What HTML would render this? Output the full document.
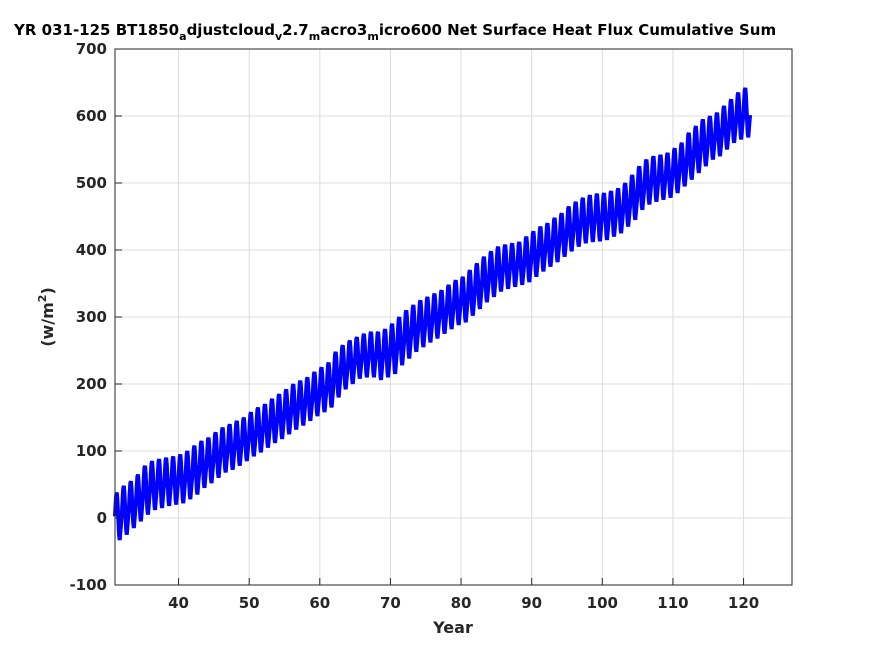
<!DOCTYPE html>
<html><head><meta charset="utf-8"><style>
html,body{margin:0;padding:0;background:#fff;width:875px;height:656px;overflow:hidden}
svg{display:block;font-family:"DejaVu Sans","Liberation Sans",sans-serif}
</style></head><body>
<svg id="chart" width="875" height="656" viewBox="0 0 875 656" xmlns="http://www.w3.org/2000/svg">
<rect x="0" y="0" width="875" height="656" fill="#fff"/>
<text x="14" y="35" font-size="15" font-weight="bold" fill="#000">YR 031-125 BT1850<tspan font-size="11" dy="5">a</tspan><tspan dy="-5">djustcloud</tspan><tspan font-size="11" dy="5">v</tspan><tspan dy="-5">2.7</tspan><tspan font-size="11" dy="5">m</tspan><tspan dy="-5">acro3</tspan><tspan font-size="11" dy="5">m</tspan><tspan dy="-5">icro600 Net Surface Heat Flux  Cumulative Sum</tspan></text>
<g id="grid"></g>
<g id="series"></g>
<rect x="115" y="49" width="677" height="536" fill="none" stroke="#262626" stroke-width="1"/>
<g id="ticks"></g>
<text x="453" y="633" font-size="16" font-weight="bold" text-anchor="middle" fill="#262626">Year</text>
<text transform="translate(53,317) rotate(-90)" font-size="16" font-weight="bold" text-anchor="middle" fill="#262626">(w/m<tspan font-size="11" dy="-7">2</tspan><tspan dy="7">)</tspan></text>
</svg>
<script>
const years = [];
for (let y = 31; y <= 120; y++) years.push(y);
const yearMax = [38,48,55,65,78,85,88,90,92,95,100,108,115,120,128,135,140,145,150,158,165,170,178,185,192,200,205,210,218,225,232,248,258,265,270,275,278,278,282,290,300,310,318,325,330,335,340,348,355,360,370,380,390,398,405,408,410,412,420,428,435,440,448,455,465,472,478,482,484,485,488,492,500,512,525,535,540,542,545,552,560,575,585,595,600,605,615,625,635,642];
const yearMin = [-33,-25,-15,-5,5,12,15,18,20,22,28,35,45,52,60,68,72,78,85,92,98,105,112,118,125,132,138,145,152,158,165,180,192,200,208,210,210,206,210,215,228,238,248,255,262,268,275,282,288,292,302,312,322,330,338,342,345,348,352,360,368,375,382,390,398,405,410,412,413,415,420,425,435,445,460,468,472,475,478,485,495,505,515,525,535,540,550,560,565,568];
const seasonShape = [0.5,0.75,0.95,1,0.85,0.6,0.35,0.1,0,0.15,0.3,0.45];
const xTicks = [40,50,60,70,80,90,100,110,120];
const yTicks = [-100,0,100,200,300,400,500,600,700];
const X0=115,X1=792,Y0=585,Y1=49, XMIN=31, XMAX=126.86, YMIN=-100, YMAX=700;
const sx = v => X0 + (v-XMIN)/(XMAX-XMIN)*(X1-X0);
const sy = v => Y0 - (v-YMIN)/(YMAX-YMIN)*(Y0-Y1);
const NS="http://www.w3.org/2000/svg";
const grid=document.getElementById('grid'), ticks=document.getElementById('ticks'), series=document.getElementById('series');
function mk(tag, attrs){const e=document.createElementNS(NS,tag);for(const k in attrs)e.setAttribute(k,attrs[k]);return e;}
xTicks.forEach(t=>{
  const x=sx(t);
  const g=mk('line',{x1:x,x2:x,y1:Y1,y2:Y0,stroke:'#dcdcdc','stroke-width':1});
  
  
  grid.appendChild(g);
  const tk=mk('line',{x1:x,x2:x,y1:Y0,y2:Y0-7,stroke:'#262626'});
  
  
  ticks.appendChild(tk);
  const lb=mk('text',{x:x,y:Y0+23,'font-size':15,'font-weight':'bold','text-anchor':'middle',fill:'#262626'});
  lb.textContent=t;
  
  
  ticks.appendChild(lb);
});
yTicks.forEach(t=>{
  const y=sy(t);
  const g=mk('line',{x1:X0,x2:X1,y1:y,y2:y,stroke:'#dcdcdc','stroke-width':1});
  
  
  grid.appendChild(g);
  const tk=mk('line',{x1:X0,x2:X0+7,y1:y,y2:y,stroke:'#262626'});
  
  
  ticks.appendChild(tk);
  const lb=mk('text',{x:X0-8,y:y+5,'font-size':15,'font-weight':'bold','text-anchor':'end',fill:'#262626'});
  lb.textContent=t;
  
  
  ticks.appendChild(lb);
});
const pts=[];
years.forEach((yr,i)=>{
  seasonShape.forEach((f,m)=>{
    const v=yearMin[i]+f*(yearMax[i]-yearMin[i]);
    pts.push(sx(yr+m/12).toFixed(2)+','+sy(v).toFixed(2));
  });
});
const line=mk('polyline',{points:pts.join(' '),fill:'none',stroke:'#0000ff','stroke-width':4,'stroke-linejoin':'miter'});


series.appendChild(line);
</script>
</body></html>
